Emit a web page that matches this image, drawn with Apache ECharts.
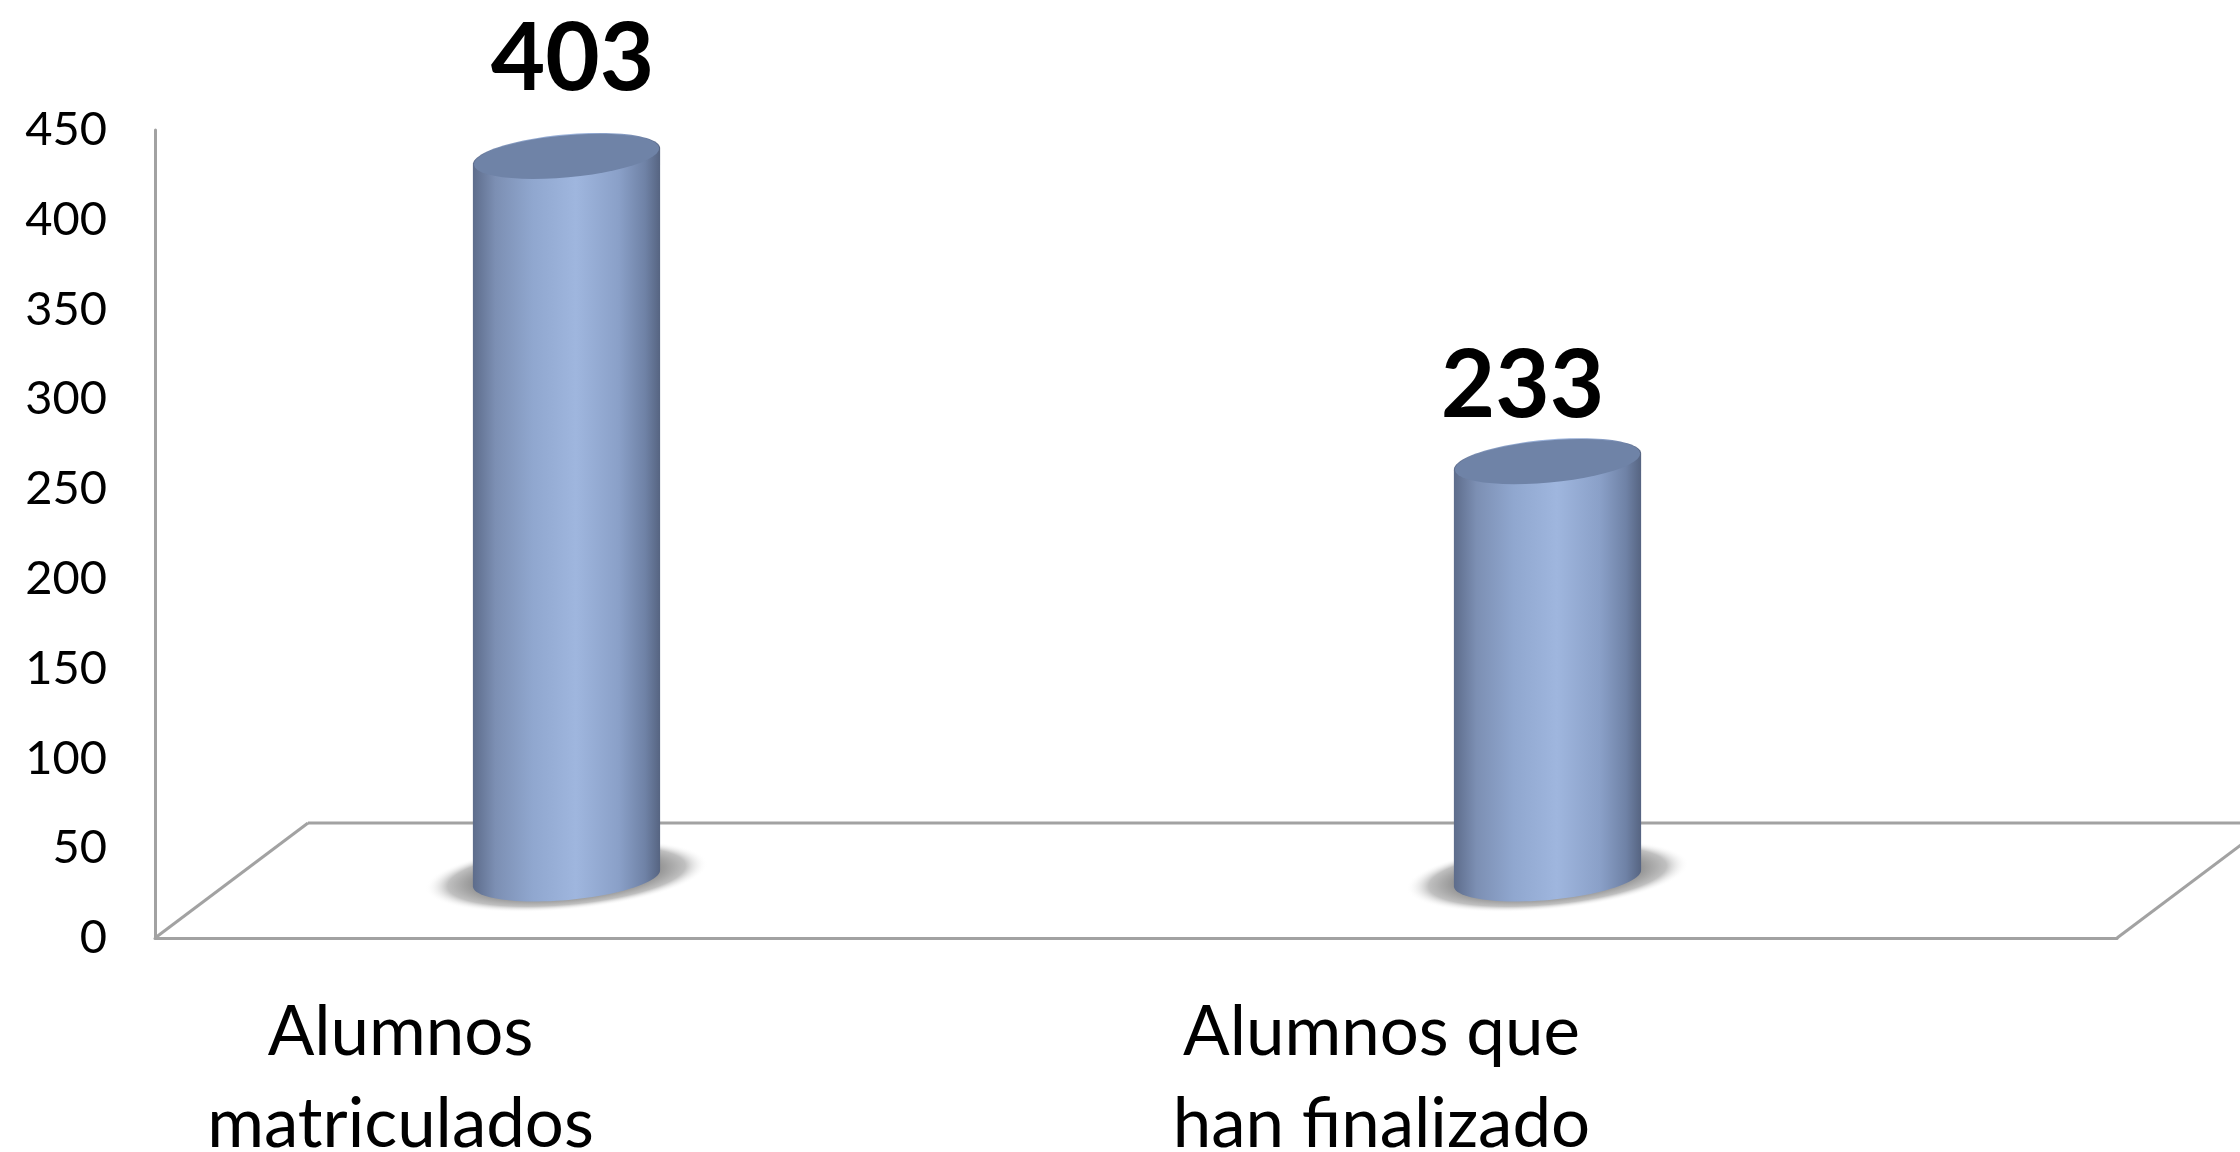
<!DOCTYPE html>
<html>
<head>
<meta charset="utf-8">
<title>Alumnos</title>
<script src="https://cdn.jsdelivr.net/npm/echarts@6/dist/echarts.min.js"></script>
<style>
html,body{margin:0;padding:0;background:#fff;}
#chart{width:2240px;height:1152px;}
</style>
</head>
<body>
<div id="chart"></div>
<script>
var categories = ['Alumnos\nmatriculados', 'Alumnos que\nhan finalizado'];
var values = [403, 233];
var AXIS_MIN = 0, AXIS_MAX = 450, AXIS_STEP = 50;

var FONT = 'Lato, "Noto Sans", sans-serif';
var LINE_COLOR = '#a2a2a2';
// profundidad del suelo en perspectiva
var DEPTH_X = 153, DEPTH_Y = -115;
// el cilindro no sale del centro de la banda sino del suelo
var BAR_DX = -79, TOP_DY = -58, BASE_DY = -60;
var BAR_RX = 94, BAR_RY = 22, TILT = -5.2 * Math.PI / 180;
var LABEL_OFFSET = [[6, -97], [-25, -75]];

// punto de la elipse inclinada
function ellipsePoint(cx, cy, rx, ry, t) {
    var px = rx * Math.cos(t), py = ry * Math.sin(t);
    return [
        cx + px * Math.cos(TILT) - py * Math.sin(TILT),
        cy + px * Math.sin(TILT) + py * Math.cos(TILT)
    ];
}

function ellipsePoints(cx, cy, rx, ry, from, to) {
    var pts = [];
    for (var i = 0; i <= 48; i++) {
        pts.push(ellipsePoint(cx, cy, rx, ry, from + (to - from) * i / 48));
    }
    return pts;
}

//dibuja el suelo a partir de la rejilla
function renderFloor(params, api) {
    var c = params.coordSys;
    var bottom = c.y + c.height;
    var style = {stroke: LINE_COLOR, lineWidth: 3, fill: null};
    var backY = bottom + DEPTH_Y;
    return {
        type: 'group',
        children: [
            {type: 'line', shape: {x1: c.x, y1: bottom, x2: c.x + DEPTH_X, y2: backY}, style: style},
            {type: 'line', shape: {x1: c.x + DEPTH_X, y1: backY, x2: c.x + c.width + DEPTH_X, y2: backY}, style: style},
            {type: 'line', shape: {x1: c.x + c.width, y1: bottom, x2: c.x + c.width + DEPTH_X, y2: backY}, style: style}
        ]
    };
}

//dibuja cada cilindro
function renderCylinder(params, api) {
    var i = api.value(0);
    var top = api.coord([i, api.value(1)]);
    var base = api.coord([i, 0]);
    var cx = top[0] + BAR_DX;
    var topY = top[1] + TOP_DY;
    var baseY = base[1] + BASE_DY;

    var body = ellipsePoints(cx, baseY, BAR_RX, BAR_RY, 0, Math.PI)
        .concat(ellipsePoints(cx, topY, BAR_RX, BAR_RY, Math.PI, 2 * Math.PI));

    return {
        type: 'group',
        children: [
            {
                // sombra: circulo escalado para que el degradado siga la elipse
                type: 'circle',
                shape: {cx: 0, cy: 0, r: 34},
                x: cx,
                y: baseY - 2,
                scaleX: 142 / 34,
                rotation: -TILT,
                style: {
                    fill: new echarts.graphic.RadialGradient(0.5, 0.5, 0.5, [
                        {offset: 0, color: '#808080'},
                        {offset: 0.62, color: '#8c8c8c'},
                        {offset: 0.84, color: '#c0c0c0'},
                        {offset: 1, color: 'rgba(255,255,255,0)'}
                    ])
                }
            },
            {
                type: 'polygon',
                shape: {points: body},
                style: {
                    fill: new echarts.graphic.LinearGradient(0, 0, 1, 0, [
                        {offset: 0, color: '#5d6c8b'},
                        {offset: 0.12, color: '#7c8fb3'},
                        {offset: 0.32, color: '#90a7cf'},
                        {offset: 0.55, color: '#9fb6de'},
                        {offset: 0.78, color: '#8aa0c8'},
                        {offset: 0.92, color: '#6f82a6'},
                        {offset: 1, color: '#566481'}
                    ])
                }
            },
            {
                type: 'polygon',
                shape: {points: ellipsePoints(cx, topY, BAR_RX - 1, BAR_RY - 1, 0, 2 * Math.PI)},
                style: {fill: '#6f83a7'}
            },
            {
                type: 'text',
                style: {
                    text: String(api.value(1)),
                    x: cx + LABEL_OFFSET[i][0],
                    y: topY + LABEL_OFFSET[i][1],
                    align: 'center',
                    verticalAlign: 'middle',
                    fill: '#000',
                    font: 'bold 94px ' + FONT
                }
            }
        ]
    };
}

function drawChart() {
    var data = [];
    for (var i = 0; i < values.length; i++) {
        data.push([i, values[i]]);
    }
    var option = {
        animation: false,
        backgroundColor: '#fff',
        grid: {left: 155, top: 130, width: 1962, height: 808, outerBoundsMode: 'none'},
        xAxis: {
            type: 'category',
            data: categories,
            axisLine: {show: true, lineStyle: {color: LINE_COLOR, width: 3}},
            axisTick: {show: false},
            axisLabel: {
                interval: 0,
                color: '#000',
                fontFamily: FONT,
                fontSize: 69,
                lineHeight: 92,
                margin: 49,
                // las etiquetas quedan a la izquierda del centro de la banda
                padding: [0, 490, 0, 0]
            }
        },
        yAxis: {
            type: 'value',
            min: AXIS_MIN,
            max: AXIS_MAX,
            interval: AXIS_STEP,
            splitLine: {show: false},
            axisTick: {show: false},
            axisLine: {show: true, lineStyle: {color: LINE_COLOR, width: 3}},
            axisLabel: {color: '#000', fontFamily: FONT, fontSize: 47, margin: 48, padding: [4, 0, 0, 0]}
        },
        series: [
            {type: 'custom', renderItem: renderFloor, data: [[0, 0]], z: 1, silent: true, clip: false},
            {type: 'custom', renderItem: renderCylinder, data: data, z: 2, encode: {x: 0, y: 1}, clip: false}
        ]
    };
    var myChart = echarts.init(document.getElementById('chart'), null, {renderer: 'canvas'});
    myChart.setOption(option);
}

drawChart();
</script>
</body>
</html>
